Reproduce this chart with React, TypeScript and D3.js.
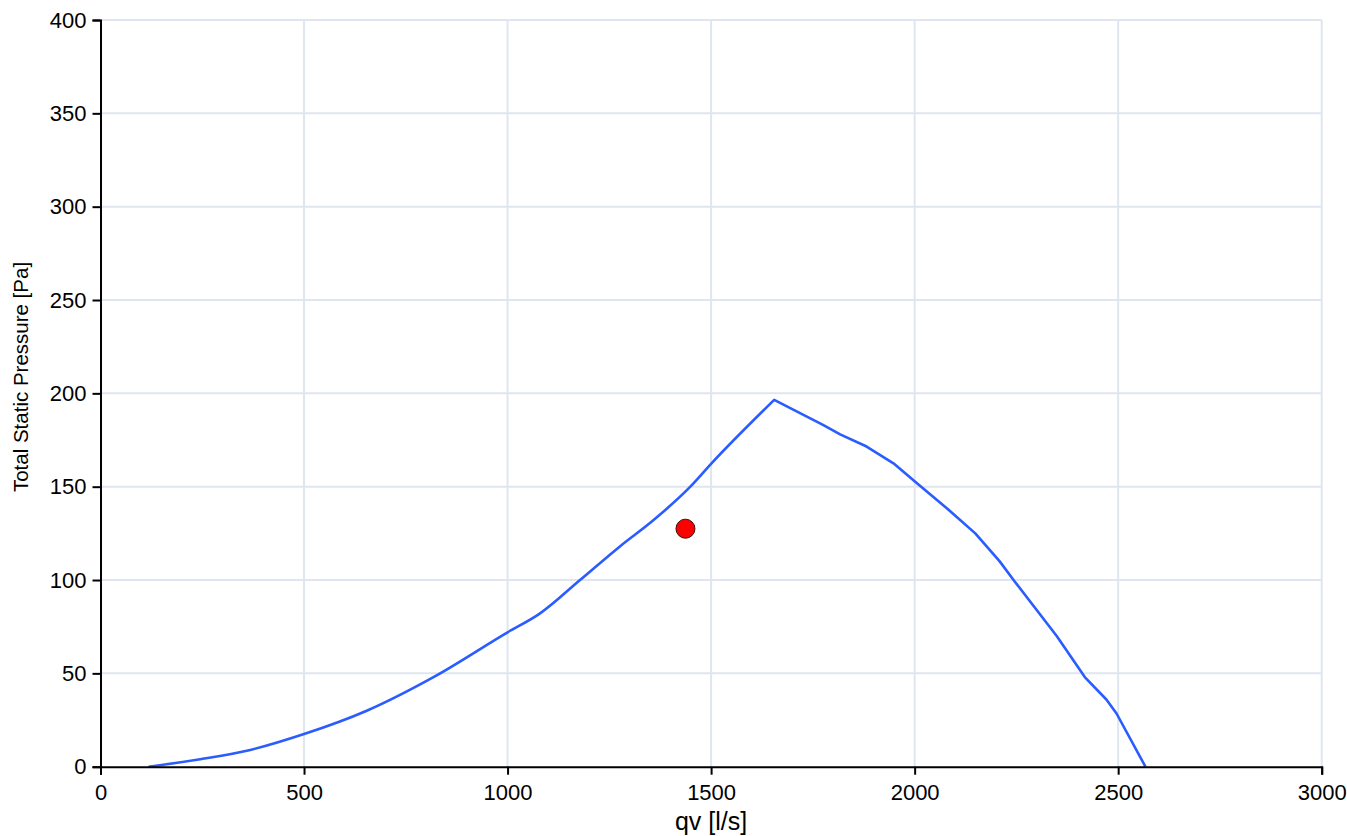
import React, { useEffect, useRef } from 'react';
import * as d3 from 'd3';

// fan curve
const flowValues = [118, 245, 368, 500, 654, 818, 1000, 1079, 1178, 1276, 1358, 1449, 1501, 1655, 1776, 1817, 1882, 1948, 2005, 2079, 2149, 2209, 2243, 2349, 2418, 2471, 2496, 2567];
const pressureValues = [0, 4, 9, 17.5, 30, 48, 72, 82, 100, 118, 132, 150, 162.5, 196.5, 183, 178, 171.5, 162.5, 152, 138.5, 125, 110, 100, 70, 48, 36, 28.5, 0];

// operating point
const pointFlow = [1437];
const pointPressure = [127.5];

const xTicks = [0, 500, 1000, 1500, 2000, 2500, 3000];
const yTicks = [0, 50, 100, 150, 200, 250, 300, 350, 400];

const W = 1347;
const H = 836;

const App = () => {
  const ref = useRef<SVGSVGElement>(null);

  useEffect(() => {
    const svg = d3.select(ref.current);
    svg.selectAll('*').remove();

    const margin = { top: 20, left: 100.5 };
    const width = 1221.2;
    const height = 746.7;
    const font = '"Liberation Sans", Arial, sans-serif';

    const g = svg.append('g')
      .attr('transform', `translate(${margin.left}, ${margin.top})`);

    const x = d3.scaleLinear().domain([0, 3000]).range([0, width]);
    const y = d3.scaleLinear().domain([0, 400]).range([height, 0]);

    // grid
    g.selectAll('.vgrid')
      .data(xTicks.filter(d => d > 0))
      .enter().append('line')
      .attr('x1', d => x(d)).attr('x2', d => x(d))
      .attr('y1', 0).attr('y2', height)
      .style('stroke', '#dfe6f0')
      .style('stroke-width', 2);

    g.selectAll('.hgrid')
      .data(yTicks.filter(d => d > 0))
      .enter().append('line')
      .attr('x1', 0).attr('x2', width)
      .attr('y1', d => y(d)).attr('y2', d => y(d))
      .style('stroke', '#dfe6f0')
      .style('stroke-width', 2);

    // curve: smooth rising branch, then the kinked falling branch
    const pts = flowValues.map((q, i) => [q, pressureValues[i]] as [number, number]);
    const peak = d3.maxIndex(pressureValues);

    const rising = d3.line<[number, number]>()
      .x(d => x(d[0]))
      .y(d => y(d[1]))
      .curve(d3.curveMonotoneX);
    const falling = d3.line<[number, number]>()
      .x(d => x(d[0]))
      .y(d => y(d[1]))
      .curve(d3.curveLinear);

    g.append('path')
      .attr('d', (rising(pts.slice(0, peak + 1)) || '') + (falling(pts.slice(peak)) || '').replace(/^M/, 'L'))
      .style('fill', 'none')
      .style('stroke', '#2a5cff')
      .style('stroke-width', 2.6)
      .style('stroke-linejoin', 'round');

    // axes
    const fmt = d3.format('d');
    const xAxis = g.append('g')
      .attr('transform', `translate(0, ${height})`)
      .call(d3.axisBottom(x).tickValues(xTicks).tickFormat(fmt).tickSizeOuter(0).tickSize(8).tickPadding(6));
    const yAxis = g.append('g')
      .call(d3.axisLeft(y).tickValues(yTicks).tickFormat(fmt).tickSizeOuter(0).tickSize(8).tickPadding(6));

    [xAxis, yAxis].forEach(a => {
      a.select('.domain').style('stroke', '#000').style('stroke-width', 2);
      a.selectAll('.tick line').style('stroke', '#000').style('stroke-width', 2);
      a.selectAll('.tick text')
        .style('font-family', font)
        .style('font-size', '22px')
        .style('fill', '#000');
    });
    xAxis.selectAll('.tick text').attr('dy', '0.9em');

    // operating point
    g.selectAll('.pt')
      .data(pointFlow)
      .enter().append('circle')
      .attr('cx', d => x(d))
      .attr('cy', (d, i) => y(pointPressure[i]))
      .attr('r', 9.5)
      .style('fill', '#ff0000')
      .style('stroke', '#3a1010')
      .style('stroke-width', 1);

    // axis titles
    svg.append('text')
      .attr('x', margin.left + width / 2)
      .attr('y', 830)
      .attr('text-anchor', 'middle')
      .style('font-family', font)
      .style('font-size', '25px')
      .style('fill', '#000')
      .text('qv [l/s]');

    svg.append('text')
      .attr('transform', 'translate(28, 377) rotate(-90)')
      .attr('text-anchor', 'middle')
      .style('font-family', font)
      .style('font-size', '20.5px')
      .style('fill', '#000')
      .text('Total Static Pressure [Pa]');
  }, []);

  return (
    <div style={{ position: 'fixed', left: 0, top: 0, background: '#fff' }}>
      <svg ref={ref} width={W} height={H}></svg>
    </div>
  );
};

export default App;
